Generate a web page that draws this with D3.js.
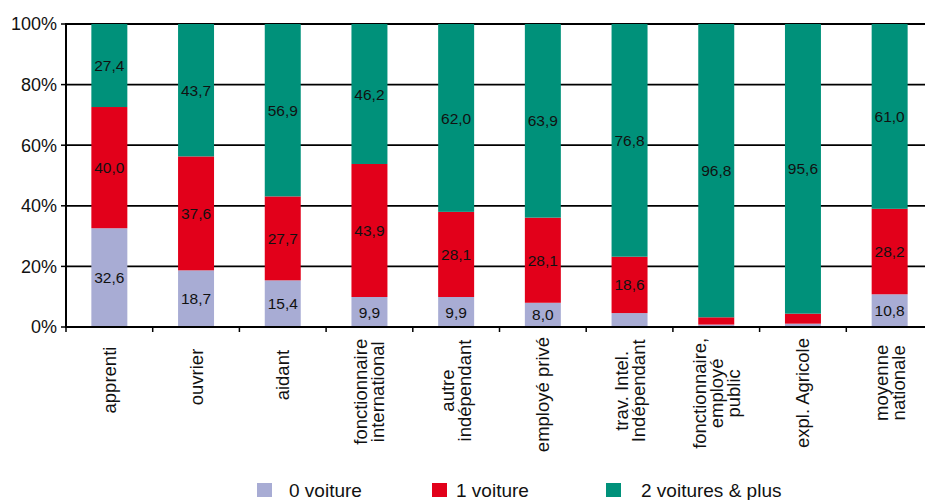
<!DOCTYPE html>
<html>
<head>
<meta charset="utf-8">
<script src="https://cdn.jsdelivr.net/npm/d3@7"></script>
<style>
  html, body { margin: 0; padding: 0; background: #fff; }
  svg { display: block; font-family: "Liberation Sans", Arial, sans-serif; }
</style>
</head>
<body>
<svg id="chart" width="925" height="500"></svg>
<script>
// Catégories socio-professionnelles (une entrée par ligne de libellé)
const categories = [
  ["apprenti"],
  ["ouvrier"],
  ["aidant"],
  ["fonctionnaire", "international"],
  ["autre", "indépendant"],
  ["employé privé"],
  ["trav. Intel.", "Indépendant"],
  ["fonctionnaire,", "employé", "public"],
  ["expl. Agricole"],
  ["moyenne", "nationale"]
];

// Part des ménages (%) selon le nombre de voitures
const zeroVoiture = [32.6, 18.7, 15.4, 9.9, 9.9, 8.0, 4.6, 0.8, 1.1, 10.8];
const uneVoiture  = [40.0, 37.6, 27.7, 43.9, 28.1, 28.1, 18.6, 2.4, 3.3, 28.2];
const deuxPlus    = [27.4, 43.7, 56.9, 46.2, 62.0, 63.9, 76.8, 96.8, 95.6, 61.0];

const seriesNames = ["0 voiture", "1 voiture", "2 voitures & plus"];
const yTicks = [0, 20, 40, 60, 80, 100];
const yTickLabels = ["0%", "20%", "40%", "60%", "80%", "100%"];

const colors = ["#a8acd4", "#e2001a", "#00917a"];

const svg = d3.select("#chart");

const plotLeft = 66, plotTop = 24, plotBottom = 327;
const step = 86.7;
const x = d3.scaleBand()
  .domain(d3.range(categories.length))
  .range([plotLeft, plotLeft + step * categories.length])
  .paddingInner(0.585)
  .paddingOuter(0.2925);

const y = d3.scaleLinear().domain([0, 100]).range([plotBottom, plotTop]);

// Grille horizontale (derrière les barres)
svg.append("g")
  .selectAll("line")
  .data(yTicks.filter(d => d > 0))
  .join("line")
  .attr("x1", plotLeft).attr("x2", 925)
  .attr("y1", d => y(d)).attr("y2", d => y(d))
  .attr("stroke", "#000")
  .attr("stroke-width", 1.8);

// Empilement des séries
const rows = categories.map((c, i) => ({
  i,
  s0: zeroVoiture[i],
  s1: uneVoiture[i],
  s2: deuxPlus[i]
}));
const stacked = d3.stack().keys(["s0", "s1", "s2"])(rows);

const fmt = v => d3.format(".1f")(v).replace(".", ",");

const layers = svg.append("g")
  .selectAll("g")
  .data(stacked)
  .join("g")
  .attr("fill", (d, k) => colors[k]);

layers.selectAll("rect")
  .data(d => d)
  .join("rect")
  .attr("x", d => x(d.data.i))
  .attr("width", x.bandwidth())
  .attr("y", d => y(d[1]))
  .attr("height", d => y(d[0]) - y(d[1]));

// Valeurs dans les segments
const labelLayer = svg.append("g")
  .attr("font-size", 15.5)
  .attr("fill", "#111")
  .attr("text-anchor", "middle");

stacked.forEach(layer => {
  layer.forEach(d => {
    const v = d.data[layer.key];
    if (v < 5) return;
    labelLayer.append("text")
      .attr("x", x(d.data.i) + x.bandwidth() / 2)
      .attr("y", (y(d[0]) + y(d[1])) / 2)
      .attr("dy", "0.36em")
      .text(fmt(v));
  });
});

// Axe Y
const yAxis = svg.append("g");
yAxis.append("line")
  .attr("x1", plotLeft).attr("x2", plotLeft)
  .attr("y1", plotTop - 1).attr("y2", plotBottom + 1)
  .attr("stroke", "#000").attr("stroke-width", 2);
yAxis.selectAll("line.tick")
  .data(yTicks)
  .join("line")
  .attr("class", "tick")
  .attr("x1", plotLeft - 5).attr("x2", plotLeft)
  .attr("y1", d => y(d)).attr("y2", d => y(d))
  .attr("stroke", "#000").attr("stroke-width", 1.5);
yAxis.selectAll("text")
  .data(yTicks)
  .join("text")
  .attr("x", 57)
  .attr("y", d => y(d))
  .attr("dy", "0.35em")
  .attr("text-anchor", "end")
  .attr("font-size", 18)
  .attr("fill", "#111")
  .text((d, i) => yTickLabels[i]);

// Axe X
const xAxis = svg.append("g");
xAxis.append("line")
  .attr("x1", plotLeft - 1).attr("x2", 925)
  .attr("y1", plotBottom).attr("y2", plotBottom)
  .attr("stroke", "#000").attr("stroke-width", 2);
xAxis.selectAll("line.tick")
  .data(d3.range(categories.length + 1))
  .join("line")
  .attr("class", "tick")
  .attr("x1", i => plotLeft + i * x.step()).attr("x2", i => plotLeft + i * x.step())
  .attr("y1", plotBottom).attr("y2", plotBottom + 5)
  .attr("stroke", "#000").attr("stroke-width", 1.5);

// Libellés de catégories, verticaux
const catFont = 18.5, lineGap = 17;
categories.forEach((lines, i) => {
  const cx = x(i) + x.bandwidth() / 2;
  const g = xAxis.append("g");
  const texts = lines.map(ln => g.append("text")
    .attr("font-size", catFont)
    .attr("fill", "#111")
    .attr("text-anchor", "middle")
    .attr("dy", "0.35em")
    .text(ln));
  const maxLen = d3.max(texts, t => t.node().getComputedTextLength());
  const start = 338 + (110 - maxLen) * 0.2;
  const cy = start + maxLen / 2;
  texts.forEach((t, j) => {
    const off = (j - (lines.length - 1) / 2) * lineGap;
    t.attr("transform", `translate(${cx + off},${cy}) rotate(-90)`);
  });
});

// Légende
const legendSwatchX = [257, 432, 606];
const legendTextX = [289, 456, 641];
const legend = svg.append("g");
seriesNames.forEach((name, k) => {
  legend.append("rect")
    .attr("x", legendSwatchX[k]).attr("y", 483)
    .attr("width", 15).attr("height", 14)
    .attr("fill", colors[k]);
  legend.append("text")
    .attr("x", legendTextX[k]).attr("y", 497)
    .attr("font-size", 19)
    .attr("fill", "#111")
    .text(name);
});
</script>
</body>
</html>
